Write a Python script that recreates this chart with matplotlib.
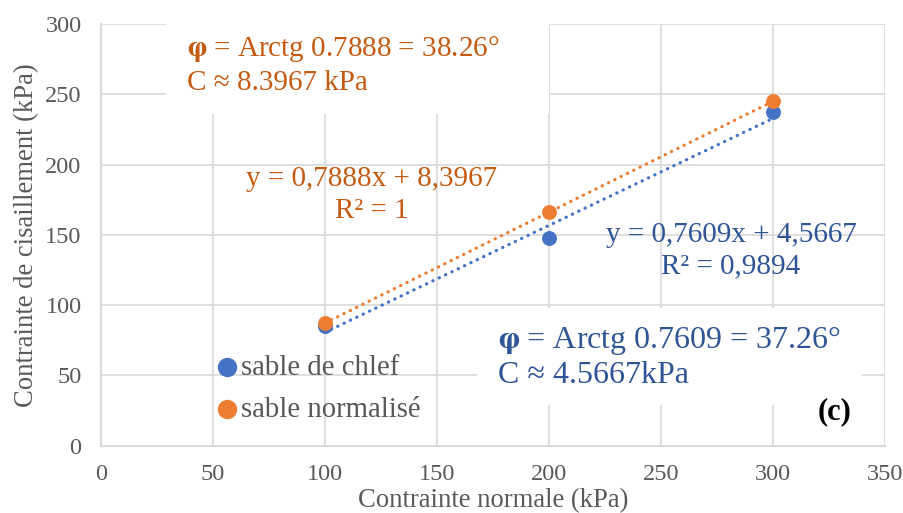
import numpy as np
import matplotlib
matplotlib.use("Agg")
import matplotlib.pyplot as plt
from matplotlib.patches import Rectangle

# Data
x_vals = [100, 200, 300]
chlef = [85.0, 148.1, 237.2]
normalise = [87.3, 166.2, 245.0]
labels = ["sable de chlef", "sable normalisé"]
x_ticks = [0, 50, 100, 150, 200, 250, 300, 350]
y_ticks = [0, 50, 100, 150, 200, 250, 300]

blue = "#4472C4"
orange = "#ED7D31"
blue_txt = "#2F5597"
orange_txt = "#C55A11"
grey = "#595959"
grid = "#D9D9D9"

plt.rcParams['font.family'] = ['Liberation Serif', 'DejaVu Serif']
plt.rcParams['mathtext.fontset'] = 'stix'

fig = plt.figure(figsize=(9.04, 5.13), dpi=100)
ax = fig.add_axes([0.1117, 0.1310, 0.8673, 0.8222])
ax.set_xlim(0, 350)
ax.set_ylim(0, 300)
ax.set_xticks(x_ticks)
ax.set_yticks(y_ticks)
ax.grid(True, color=grid, lw=1.2, zorder=0)
ax.set_axisbelow(True)
for s in ['top', 'right']:
    ax.spines[s].set_visible(False)
for s in ['left', 'bottom']:
    ax.spines[s].set_color(grid)
    ax.spines[s].set_linewidth(1.5)
ax.tick_params(axis='y', length=0, labelsize=17.5, labelcolor=grey, pad=14)
ax.tick_params(axis='x', length=0, labelsize=17.5, labelcolor=grey, pad=13)

ax.set_xlabel("Contrainte normale (kPa)", fontsize=19.2, color=grey, labelpad=2)
ax.set_ylabel("Contrainte de cisaillement (kPa)", fontsize=19.2, color=grey, labelpad=4)

# White text boxes hiding the gridlines (as in the original)
ax.add_patch(Rectangle((29.0, 236.0), 171.0, 70.0, facecolor='white',
                       edgecolor='none', zorder=1.5))
ax.add_patch(Rectangle((167.9, 29.1), 171.8, 68.9, facecolor='white',
                       edgecolor='none', zorder=1.5))

xs = np.array(x_vals, dtype=float)
for ys, col in [(chlef, blue), (normalise, orange)]:
    p = np.polyfit(xs, ys, 1)
    xl = np.linspace(xs.min(), xs.max(), 50)
    ax.plot(xl, np.polyval(p, xl), color=col, lw=2.3, linestyle=(0, (0.1, 2.1)),
            dash_capstyle='round', zorder=3)

h1 = ax.scatter(x_vals, chlef, s=115, color=blue, zorder=4, label=labels[0], linewidths=0)
h2 = ax.scatter(x_vals, normalise, s=115, color=orange, zorder=5, label=labels[1], linewidths=0)

leg = ax.legend(handles=[h1, h2], loc='center left', bbox_to_anchor=(0.146, 0.135),
                frameon=False, fontsize=20.7, handletextpad=0.1, borderpad=0,
                labelspacing=0.56, handlelength=0.8, borderaxespad=0, markerscale=1.3)
for t in leg.get_texts():
    t.set_color(grey)

# Orange annotation
ax.text(38.4, 270.8, r"$\mathbf{\varphi}$ = Arctg 0.7888 = 38.26°" + "\nC ≈ 8.3967 kPa",
        fontsize=21, color=orange_txt, ha='left', va='center', linespacing=1.3, zorder=6)

# Blue annotation
ax.text(177.2, 63.2, r"$\mathbf{\varphi}$ = Arctg 0.7609 = 37.26°" + "\nC ≈ 4.5667kPa",
        fontsize=23, color=blue_txt, ha='left', va='center', linespacing=1.15, zorder=6)

# Trendline equations
ax.text(121.0, 178.4, "y = 0,7888x + 8,3967\nR² = 1", fontsize=21, color=orange_txt,
        ha='center', va='center', multialignment='center', linespacing=1.3, zorder=6)
ax.text(281.25, 138.9, "y = 0,7609x + 4,5667\nR² = 0,9894", fontsize=21, color=blue_txt,
        ha='center', va='center', multialignment='center', linespacing=1.3, zorder=6)

ax.text(327.5, 24, "(c)", fontsize=22, fontweight='bold', color='black',
        ha='center', va='center', zorder=6)

fig.savefig("out.png", dpi=100)
